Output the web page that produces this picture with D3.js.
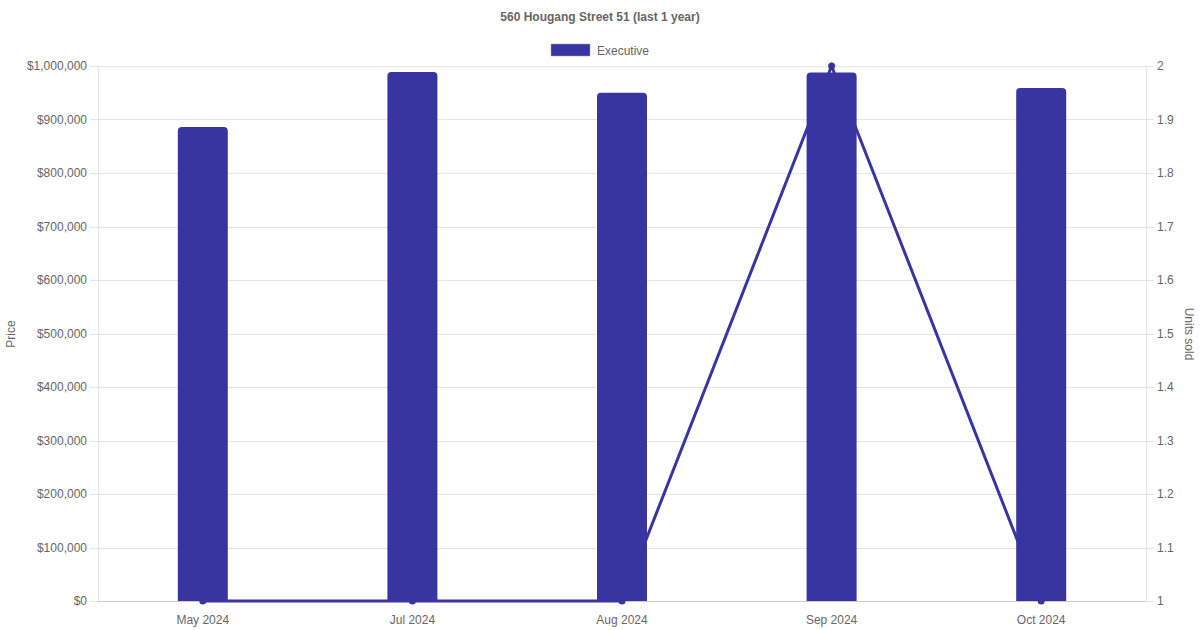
<!DOCTYPE html>
<meta charset="utf-8">
<title>560 Hougang Street 51</title>
<script src="https://d3js.org/d3.v7.min.js"></script>
<style>
  body { margin: 0; background: #fff; }
  text { font-family: "Liberation Sans", Arial, sans-serif; fill: #666; }
</style>
<body>
<svg width="1200" height="630"></svg>
<script>
  var months = ["May 2024", "Jul 2024", "Aug 2024", "Sep 2024", "Oct 2024"];
  var prices = [886000, 989000, 950000, 988000, 959000];
  var units = [1, 1, 1, 2, 1];
  var priceTicks = d3.range(0, 1000001, 100000);
  var unitTicks = [1, 1.1, 1.2, 1.3, 1.4, 1.5, 1.6, 1.7, 1.8, 1.9, 2];

  var svg = d3.select("svg"),
    padL = 98, padR = 1146, padT = 66, padB = 601,
    col = "#3935a0", grid = "#e5e5e5";

  var x = d3.scaleBand().domain(months).range([padL, padR]);
  var yP = d3.scaleLinear().domain([0, 1000000]).range([padB, padT]);
  var yU = d3.scaleLinear().domain([1, 2]).range([padB, padT]);

  // title + legend
  svg.append("text").attr("x", 600).attr("y", 21).attr("text-anchor", "middle")
    .style("font-size", "12px").style("font-weight", "bold").text("560 Hougang Street 51 (last 1 year)");
  svg.append("rect").attr("x", 551).attr("y", 44).attr("width", 39).attr("height", 12)
    .attr("fill", col).attr("stroke", "#9896d0").attr("stroke-width", 0.5);
  svg.append("text").attr("x", 597).attr("y", 54.5).style("font-size", "12px").text("Executive");

  // horizontal grid
  svg.append("g").selectAll("line").data(priceTicks).enter().append("line")
    .attr("x1", padL - 8).attr("x2", padR + 8)
    .attr("y1", function (d) { return Math.round(yP(d)) + 0.5; })
    .attr("y2", function (d) { return Math.round(yP(d)) + 0.5; })
    .attr("stroke", grid);

  // axis borders
  svg.append("line").attr("x1", padL + 0.5).attr("x2", padL + 0.5).attr("y1", padT).attr("y2", padB).attr("stroke", grid);
  svg.append("line").attr("x1", padR + 0.5).attr("x2", padR + 0.5).attr("y1", padT).attr("y2", padB).attr("stroke", grid);
  svg.append("line").attr("x1", padL).attr("x2", padR).attr("y1", padB + 0.5).attr("y2", padB + 0.5).attr("stroke", "#ccc");

  // left labels
  var fmt = d3.format("$,");
  svg.append("g").selectAll("text").data(priceTicks).enter().append("text")
    .attr("x", padL - 11).attr("y", function (d) { return yP(d) + 4; })
    .attr("text-anchor", "end").style("font-size", "12px")
    .text(function (d) { return fmt(d); });

  // right labels
  svg.append("g").selectAll("text").data(unitTicks).enter().append("text")
    .attr("x", padR + 11).attr("y", function (d) { return yU(d) + 4; })
    .style("font-size", "12px")
    .text(function (d) { return d3.format("~g")(d); });

  // x labels
  svg.append("g").selectAll("text").data(months).enter().append("text")
    .attr("x", function (d) { return x(d) + x.bandwidth() / 2; }).attr("y", 624)
    .attr("text-anchor", "middle").style("font-size", "12px")
    .text(function (d) { return d; });

  // axis titles
  svg.append("text").attr("transform", "translate(15,334) rotate(-90)")
    .attr("text-anchor", "middle").style("font-size", "12px").text("Price");
  svg.append("text").attr("transform", "translate(1185,334) rotate(90)")
    .attr("text-anchor", "middle").style("font-size", "12px").text("Units sold");

  // bars with rounded top corners
  var bw = 50, r = 4;
  svg.append("g").selectAll("path").data(prices).enter().append("path")
    .attr("fill", col)
    .attr("d", function (d, i) {
      var cx = x(months[i]) + x.bandwidth() / 2, x0 = cx - bw / 2, x1 = cx + bw / 2,
        y0 = yP(d), y1 = padB;
      return "M" + x0 + "," + y1 + "V" + (y0 + r) + "Q" + x0 + "," + y0 + " " + (x0 + r) + "," + y0 +
        "H" + (x1 - r) + "Q" + x1 + "," + y0 + " " + x1 + "," + (y0 + r) + "V" + y1 + "Z";
    });

  // units line
  var line = d3.line()
    .x(function (d, i) { return x(months[i]) + x.bandwidth() / 2; })
    .y(function (d) { return yU(d); });
  svg.append("path").datum(units).attr("d", line)
    .attr("fill", "none").attr("stroke", col).attr("stroke-width", 3);
  svg.append("g").selectAll("circle").data(units).enter().append("circle")
    .attr("cx", function (d, i) { return x(months[i]) + x.bandwidth() / 2; })
    .attr("cy", function (d) { return yU(d); })
    .attr("r", 3.5).attr("fill", col);
</script>
</body>
